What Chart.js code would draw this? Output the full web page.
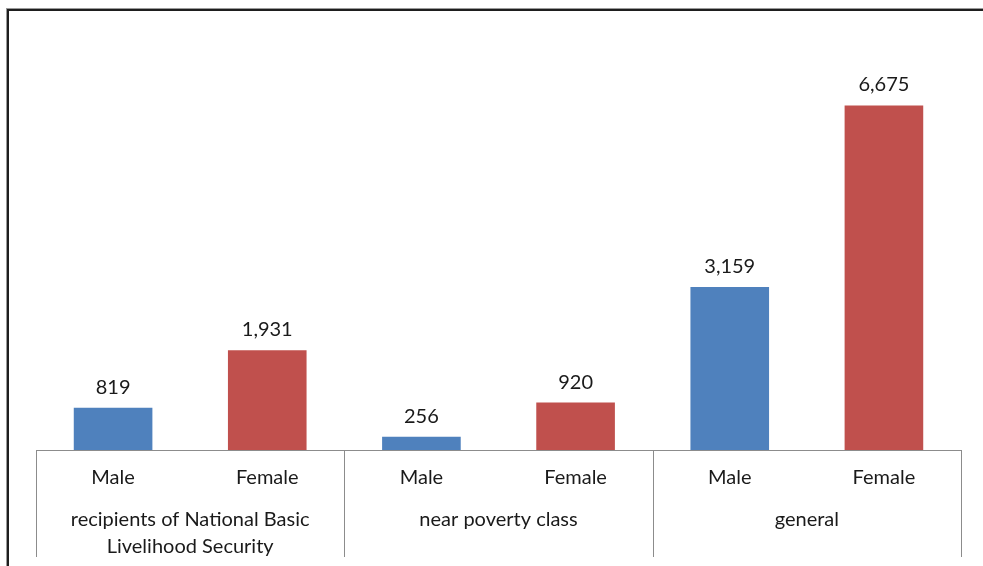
<!DOCTYPE html>
<html>
<head>
<meta charset="utf-8">
<script src="https://cdn.jsdelivr.net/npm/chart.js@4/dist/chart.umd.min.js"></script>
<style>
  html, body { margin: 0; padding: 0; background: #fff; overflow: hidden; }
  #frame { position: absolute; left: 6px; top: 8px; width: 1100px; height: 700px;
           border-top: 1px solid #9a9a9a; border-left: 1px solid #9a9a9a; }
  #frame-inner { width: 100%; height: 100%; border-top: 2px solid #1e1e1e; border-left: 2px solid #1e1e1e; }
  #chart { position: absolute; left: 0; top: 0; }
</style>
</head>
<body>
<div id="frame"><div id="frame-inner"></div></div>
<canvas id="chart" width="983" height="566"></canvas>
<script>
// chart data
const subLabels = ["Male", "Female", "Male", "Female", "Male", "Female"];
const groupLabels = [
  ["recipients of National Basic", "Livelihood Security"],
  "near poverty class",
  "general"
];
const counts = [819, 1931, 256, 920, 3159, 6675];

const blue = "#4F81BD";
const red = "#C0504D";
const barColors = subLabels.map(s => s === "Male" ? blue : red);

const fontFamily = "Lato, 'Open Sans', sans-serif";
const textColor = "#1a1a1a";
const lineColor = "#8c8c8c";

// value labels above each bar
const valueLabels = {
  id: "valueLabels",
  afterDatasetsDraw(chart) {
    const ctx = chart.ctx;
    const meta = chart.getDatasetMeta(0);
    ctx.save();
    ctx.font = "20px " + fontFamily;
    ctx.fillStyle = textColor;
    ctx.textAlign = "center";
    ctx.textBaseline = "alphabetic";
    meta.data.forEach((bar, i) => {
      ctx.fillText(counts[i].toLocaleString("en-US"), bar.x, bar.y - 14);
    });
    ctx.restore();
  }
};

// vertical separators between the category groups
const groupDividers = {
  id: "groupDividers",
  afterDraw(chart) {
    const x = chart.scales.x;
    const ctx = chart.ctx;
    const top = chart.chartArea.bottom;
    const bottom = top + 107;
    const edges = [x.left];
    for (let i = 1; i < subLabels.length - 1; i += 2) {
      edges.push((x.getPixelForValue(i) + x.getPixelForValue(i + 1)) / 2);
    }
    edges.push(x.right);
    ctx.save();
    ctx.strokeStyle = lineColor;
    ctx.lineWidth = 1;
    edges.forEach(px => {
      const xx = Math.round(px) + 0.5;
      ctx.beginPath();
      ctx.moveTo(xx, top);
      ctx.lineTo(xx, bottom);
      ctx.stroke();
    });
    ctx.restore();
  }
};

const ctx = document.getElementById("chart").getContext("2d");
const chart = new Chart(ctx, {
  type: "bar",
  data: {
    labels: subLabels,
    datasets: [{
      data: counts,
      backgroundColor: barColors,
      borderWidth: 0,
      barPercentage: 1,
      categoryPercentage: 0.51
    }]
  },
  options: {
    responsive: false,
    animation: false,
    layout: { padding: { left: 36, right: 22, top: 37, bottom: 5 } },
    plugins: {
      legend: { display: false },
      tooltip: { enabled: false }
    },
    scales: {
      y: {
        display: false,
        min: 0,
        max: 8000
      },
      x: {
        weight: 1,
        grid: { display: false, drawTicks: false },
        border: { display: true, color: lineColor, width: 1 },
        ticks: {
          color: textColor,
          font: { family: fontFamily, size: 20 },
          padding: 16,
          maxRotation: 0,
          autoSkip: false
        },
        afterFit: s => { s.height = 45; }
      },
      x2: {
        type: "category",
        position: "bottom",
        weight: 2,
        labels: groupLabels,
        offset: true,
        grid: { display: false, drawTicks: false },
        border: { display: false },
        ticks: {
          color: textColor,
          font: { family: fontFamily, size: 20, lineHeight: 1.35 },
          padding: 11,
          maxRotation: 0,
          autoSkip: false
        },
        afterFit: s => { s.height = 66; }
      }
    }
  },
  plugins: [valueLabels, groupDividers]
});
</script>
</body>
</html>
